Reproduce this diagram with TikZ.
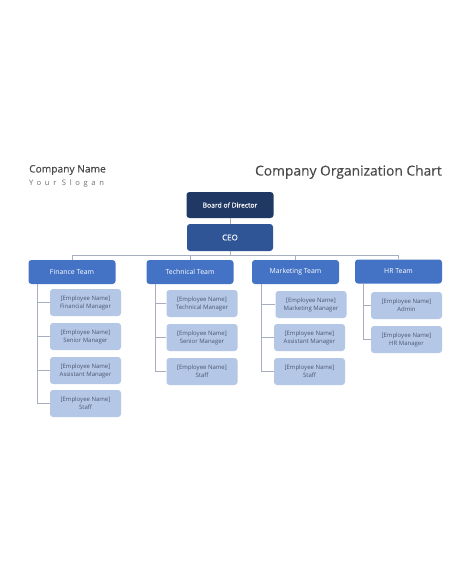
\documentclass[tikz,border=0pt]{standalone}
\usepackage{fontspec}
\setmainfont{Open Sans}
\newfontfamily\spaced[LetterSpace=48]{Open Sans}
\newfontfamily\semib[FakeBold=0.35]{Open Sans}
\newfontfamily\semic[FakeBold=0.25]{Open Sans}
\usetikzlibrary{calc}
\definecolor{navy}{HTML}{203864}
\definecolor{ceoblue}{HTML}{2F5597}
\definecolor{teamblue}{HTML}{4472C4}
\definecolor{emplblue}{HTML}{B4C7E7}
\definecolor{empltext}{HTML}{4A5670}
\definecolor{linegray}{HTML}{A6AEBF}
\definecolor{headgray}{HTML}{4A4A4A}
\definecolor{slogangray}{HTML}{6E6E6E}
\tikzset{
  box/.style={rounded corners=3pt, minimum height=#1, inner sep=1pt, align=center, draw=none},
  boardbox/.style={box=26pt, fill=navy, text=white, minimum width=87pt, font=\semib\fontsize{6.8}{8}\selectfont},
  ceobox/.style={box=27pt, fill=ceoblue, text=white, minimum width=86pt, font=\semib\fontsize{8}{9}\selectfont},
  teambox/.style={box=24pt, fill=teamblue, text=white, minimum width=87pt, font=\fontsize{6.9}{8}\selectfont},
  emplbox/.style={box=27pt, fill=emplblue, text=empltext, minimum width=71pt, font=\fontsize{6}{8}\selectfont},
  conn/.style={draw=linegray, line width=0.8pt},
}
\begin{document}
\begin{tikzpicture}[x=1pt,y=-1pt]
\useasboundingbox[fill=white] (0,0) rectangle (474,576);
% header
\node[anchor=west, inner sep=0pt, text=headgray, font=\semib\fontsize{10.2}{12}\selectfont] (cname) at (29,170) {Company Name};
\node[anchor=west, inner sep=0pt, text=slogangray, font=\spaced\fontsize{7.6}{10}\selectfont] (slogan) at (29,183.5) {Your Slogan};
\node[anchor=east, inner sep=0pt, text=headgray, font=\semic\fontsize{13.8}{15}\selectfont] (title) at (442,172) {Company Organization Chart};
% top
\node[boardbox] (board) at (230,205) {Board of Director};
\node[ceobox] (ceo) at (230,237.5) {CEO};
% teams
\node[teambox] (fin) at (72,272) {Finance Team};
\node[teambox] (tech) at (190,272) {Technical Team};
\node[teambox] (mkt) at (295.5,272) {Marketing Team};
\node[teambox] (hr) at (398.5,271.5) {HR Team};
% finance employees
\node[emplbox] (f1) at (85.5,302.5) {[Employee Name]\\Financial Manager};
\node[emplbox] (f2) at (85.5,336.5) {[Employee Name]\\Senior Manager};
\node[emplbox] (f3) at (85.5,370.5) {[Employee Name]\\Assistant Manager};
\node[emplbox] (f4) at (85.5,403.5) {[Employee Name]\\Staff};
% technical
\node[emplbox] (t1) at (202,303.5) {[Employee Name]\\Technical Manager};
\node[emplbox] (t2) at (202,337.5) {[Employee Name]\\Senior Manager};
\node[emplbox] (t3) at (202,371.5) {[Employee Name]\\Staff};
% marketing
\node[emplbox] (m1) at (311,304.5) {[Employee Name]\\Marketing Manager};
\node[emplbox] (m2) at (309.5,337.5) {[Employee Name]\\Assistant Manager};
\node[emplbox] (m3) at (309.5,371.5) {[Employee Name]\\Staff};
% hr
\node[emplbox] (h1) at (406.5,305.5) {[Employee Name]\\Admin};
\node[emplbox] (h2) at (406.5,339.5) {[Employee Name]\\HR Manager};
% connectors
\draw[conn] (board.south) -- (ceo.north);
\coordinate (bus) at ($(ceo.south)+(0,4)$);
\draw[conn] (ceo.south) -- (bus);
\foreach \t in {fin,tech,mkt,hr} \draw[conn] (bus) -| (\t.north);
\coordinate (fv) at (fin.south -| 37,0);
\coordinate (tv) at (tech.south -| 155,0);
\coordinate (mv) at (mkt.south -| 261,0);
\coordinate (hv) at (hr.south -| 363,0);
\foreach \e in {f1,f2,f3,f4} \draw[conn] (fv) |- (\e.west);
\foreach \e in {t1,t2,t3} \draw[conn] (tv) |- (\e.west);
\foreach \e in {m1,m2,m3} \draw[conn] (mv) |- (\e.west);
\foreach \e in {h1,h2} \draw[conn] (hv) |- (\e.west);
\end{tikzpicture}
\end{document}
